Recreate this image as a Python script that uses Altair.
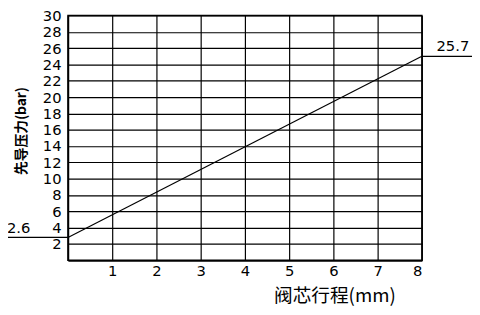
import altair as alt
import pandas as pd

# valve spool stroke (mm) vs pilot pressure (bar)
stroke = [0, 8]
pressure = [2.8, 25.0]

# annotation callouts
ann_text = ["2.6", "25.7"]
ann_y = [2.8, 25.0]
ann_x_from = [-1.42, 8.0]
ann_x_to = [0.0, 9.2]
ann_text_x = [-1.38, 8.33]

x_grid = list(range(0, 9))
y_grid = list(range(0, 31, 2))

FONT = "DejaVu Sans"
CJK = "Noto Sans CJK SC"

line_df = pd.DataFrame({"x": stroke, "y": pressure})
ann_df = pd.DataFrame({"t": ann_text, "y": ann_y, "x1": ann_x_from,
                       "x2": ann_x_to, "tx": ann_text_x})

xs = alt.Scale(domain=[0, 8], nice=False, zero=False)
ys = alt.Scale(domain=[0, 30], nice=False, zero=False)

base = alt.Chart(line_df).mark_line(color="black", strokeWidth=1.2, clip=False).encode(
    x=alt.X("x:Q", scale=xs,
            axis=alt.Axis(values=x_grid, title="阀芯行程(mm)",
                          labelExpr="datum.value == 0 ? '' : datum.label",
                          labelOverlap=False,
                          grid=True, gridColor="black", gridOpacity=1, gridWidth=1.2,
                          ticks=False, domainColor="black", domainWidth=1.5,
                          labelFont=FONT, labelFontSize=15, labelColor="black",
                          labelPadding=3,
                          titleFont=CJK, titleFontSize=19, titleFontWeight="normal",
                          titleColor="black", titleX=271, titleY=36,
                          titleBaseline="middle", titleAlign="center")),
    y=alt.Y("y:Q", scale=ys,
            axis=alt.Axis(values=y_grid, title="先导压力(bar)",
                          labelExpr="datum.value == 0 ? '' : datum.label",
                          labelOverlap=False,
                          grid=True, gridColor="black", gridOpacity=1, gridWidth=1.2,
                          ticks=False, domainColor="black", domainWidth=1.5,
                          labelFont=FONT, labelFontSize=15, labelColor="black",
                          labelPadding=7,
                          titleFont=CJK, titleFontSize=14, titleFontWeight="bold",
                          titleColor="black", titleX=-47, titleY=117,
                          titleAngle=-90, titleBaseline="middle", titleAlign="center")),
)

leaders = alt.Chart(ann_df).mark_rule(color="black", strokeWidth=1.2, clip=False).encode(
    x=alt.X("x1:Q", scale=xs, axis=None), x2="x2:Q", y=alt.Y("y:Q", scale=ys, axis=None)
)

labels = alt.Chart(ann_df).mark_text(align="left", baseline="bottom", dy=-2,
                                     font=FONT, fontSize=15,
                                     color="black", clip=False).encode(
    x=alt.X("tx:Q", scale=xs, axis=None), y=alt.Y("y:Q", scale=ys, axis=None), text="t:N"
)

chart = alt.layer(base, leaders, labels).resolve_axis(
    x="independent", y="independent"
).properties(
    width=360, height=249,
    background="white",
    autosize=alt.AutoSizeParams(type="none"),
    padding={"left": 61, "top": 5, "right": 51, "bottom": 53},
).configure_view(stroke="black", strokeWidth=1.5)

chart.save("out.html", embed_options={"renderer": "svg", "actions": False})
